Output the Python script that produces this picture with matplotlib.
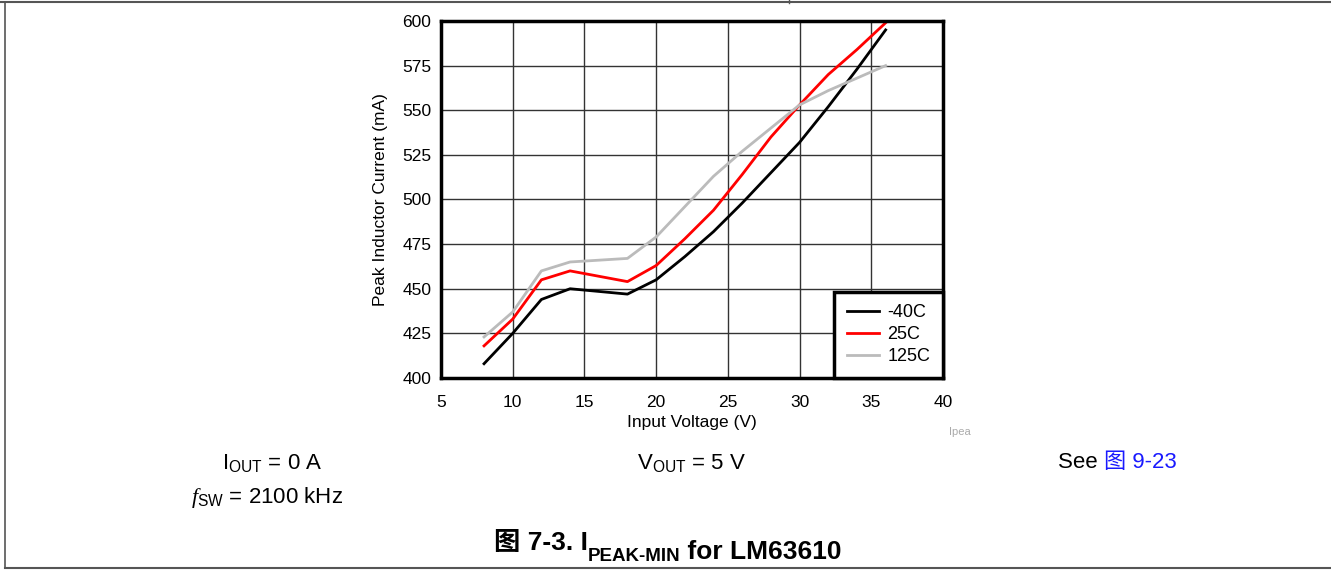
import numpy as np
import matplotlib.pyplot as plt
from matplotlib.lines import Line2D

plt.rcParams['font.family'] = ['Liberation Sans', 'Noto Sans CJK SC', 'DejaVu Sans']
plt.rcParams['mathtext.fontset'] = 'custom'
plt.rcParams['mathtext.rm'] = 'Liberation Sans'
plt.rcParams['mathtext.it'] = 'Liberation Serif:italic'

# --- data ---
vin = [8, 10, 12, 14, 18, 20, 22, 24, 26, 28, 30, 32, 34, 36]
i_m40 = [408, 425, 444, 450, 447, 455, 468, 482, 498, 515, 532, 552, 573, 595]
i_25 = [418, 433, 455, 460, 454, 463, 478, 494, 514, 535, 553, 570, 584, 599]
i_125 = [423, 437, 460, 465, 467, 479, 496, 513, 527, 540, 553, 561, 568, 575]
series_names = ['-40C', '25C', '125C']
series_colors = ['black', 'red', '#bbbbbb']
x_ticks = [5, 10, 15, 20, 25, 30, 35, 40]
y_ticks = [400, 425, 450, 475, 500, 525, 550, 575, 600]

W, H = 1331, 571
fig = plt.figure(figsize=(W / 100, H / 100), dpi=100)

# page frame lines
fig.add_artist(Line2D([0, 1], [1 - 2 / H, 1 - 2 / H], color='#555555', lw=1.5))
fig.add_artist(Line2D([5 / W, 5 / W], [1 - 2 / H, 1 - 568 / H], color='#555555', lw=1.2))
fig.add_artist(Line2D([5 / W, 1], [1 - 568 / H, 1 - 568 / H], color='#555555', lw=1.5))
fig.add_artist(Line2D([789 / W, 789 / W], [1, 1 - 3 / H], color='#555555', lw=1))

ax = fig.add_axes([441 / W, 1 - 378 / H, 502 / W, 357 / H])
for y, name, c in zip([i_m40, i_25, i_125], series_names, series_colors):
    ax.plot(vin, y, color=c, lw=2, label=name)

ax.set_xlim(5, 40)
ax.set_ylim(400, 600)
ax.set_xticks(x_ticks)
ax.set_yticks(y_ticks)
ax.tick_params(length=0, labelsize=12.5)
ax.tick_params(axis='x', pad=12)
ax.tick_params(axis='y', pad=7)
ax.grid(True, color='#333333', lw=1)
for s in ax.spines.values():
    s.set_linewidth(2.5)
ax.set_xlabel('Input Voltage (V)', fontsize=12.5, labelpad=4)
ax.set_ylabel('Peak Inductor Current (mA)', fontsize=12.5, labelpad=10)

leg = ax.legend(loc='lower right', fontsize=13, frameon=True, fancybox=False,
                borderaxespad=0, handlelength=1.8, labelspacing=0.28,
                borderpad=0.7, handletextpad=0.45)
leg.get_frame().set_edgecolor('black')
leg.get_frame().set_linewidth(2.5)
leg.get_frame().set_alpha(1)

# note and conditions
fig.text(960 / W, 1 - 432 / H, 'Ipea', color='#aaaaaa', fontsize=8, ha='center', va='center')
fig.text(272 / W, 1 - 463 / H, r'I$_{\mathrm{OUT}}$ = 0 A', fontsize=16, ha='center', va='center')
fig.text(692 / W, 1 - 463 / H, r'V$_{\mathrm{OUT}}$ = 5 V', fontsize=16, ha='center', va='center')
fig.text(267 / W, 1 - 497 / H, r'$\mathit{f}_{\mathrm{SW}}$ = 2100 kHz', fontsize=16, ha='center', va='center')

t1 = fig.text(1058 / W, 1 - 463 / H, 'See ', fontsize=16, ha='left', va='center')
ax.annotate('图 9-23', xy=(1, 0.5), xycoords=t1, ha='left', va='center',
            fontsize=16, color='#1a1aff')

# caption, built from pieces so the CJK glyph and subscript both render
c1 = fig.text(494 / W, 1 - 550 / H, '图 7-3. I', fontsize=19, fontweight='bold',
              ha='left', va='baseline')
c2 = ax.annotate('PEAK-MIN', xy=(1, 0), xycoords=c1, xytext=(0, -4),
                 textcoords='offset points', ha='left', va='baseline',
                 fontsize=13.5, fontweight='bold')
ax.annotate(' for LM63610', xy=(1, 0), xycoords=c2, xytext=(0, 4),
            textcoords='offset points', ha='left', va='baseline',
            fontsize=19, fontweight='bold')

fig.savefig('out.png', dpi=100)
